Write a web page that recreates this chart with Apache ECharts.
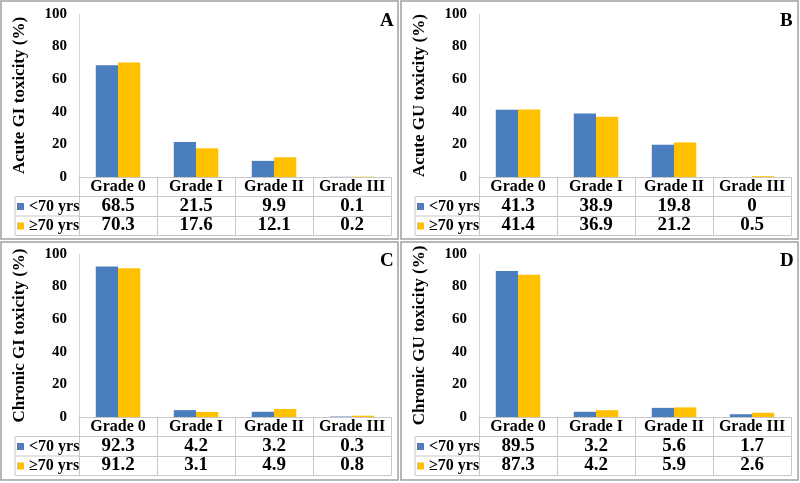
<!DOCTYPE html>
<html>
<head>
<meta charset="utf-8">
<script src="https://cdn.jsdelivr.net/npm/echarts@6/dist/echarts.min.js"></script>
<style>
html, body { margin: 0; padding: 0; background: #fff; }
#main { width: 800px; height: 483px; }
</style>
</head>
<body>
<div id="main"></div>
<script>
var categories = ['Grade 0', 'Grade I', 'Grade II', 'Grade III'];
var groups = ['<70 yrs', '≥70 yrs'];
var panelLetters = ['A', 'B', 'C', 'D'];
var panelTitles = ['Acute GI toxicity (%)', 'Acute GU toxicity (%)', 'Chronic GI toxicity (%)', 'Chronic GU toxicity (%)'];
var under70 = [
    [68.5, 21.5, 9.9, 0.1],
    [41.3, 38.9, 19.8, 0],
    [92.3, 4.2, 3.2, 0.3],
    [89.5, 3.2, 5.6, 1.7]
];
var over70 = [
    [70.3, 17.6, 12.1, 0.2],
    [41.4, 36.9, 21.2, 0.5],
    [91.2, 3.1, 4.9, 0.8],
    [87.3, 4.2, 5.9, 2.6]
];
var yMin = 0, yMax = 100, yStep = 20;

var FONT = "'Liberation Serif', 'Times New Roman', serif";
var BLUE = '#4a7ebf';
var YELLOW = '#ffc000';
var LINE = '#c8c8c8';
var panelX = [0, 400, 0, 400];
var panelY = [0, 0, 240, 240];
var ROW = 19.5;

var grids = [], xAxes = [], yAxes = [], series = [], legends = [], titles = [], graphics = [];

function valueStrings(arr) {
    return arr.map(function (v) { return String(v); });
}

for (var i = 0; i < 4; i++) {
    var px = panelX[i], py = panelY[i];
    grids.push({ left: px + 79, top: py + 14, width: 312, height: 163 });

    var base = {
        type: 'category',
        gridIndex: i,
        position: 'bottom',
        axisLine: { onZero: false, lineStyle: { color: LINE, width: 1 } },
        axisTick: { show: true, alignWithLabel: false, interval: 0, length: ROW, lineStyle: { color: LINE } },
        splitLine: { show: false }
    };
    // header row: category names
    xAxes.push(Object.assign({}, base, {
        data: categories,
        offset: 0,
        axisLabel: { interval: 0, margin: 2, color: '#000', fontFamily: FONT, fontWeight: 'bold', fontSize: 16 }
    }));
    // row 1: <70 yrs values
    xAxes.push(Object.assign({}, base, {
        data: valueStrings(under70[i]),
        offset: ROW,
        axisLabel: { interval: 0, margin: 0, color: '#000', fontFamily: FONT, fontWeight: 'bold', fontSize: 19 }
    }));
    // row 2: >=70 yrs values
    xAxes.push(Object.assign({}, base, {
        data: valueStrings(over70[i]),
        offset: ROW * 2,
        axisLabel: { interval: 0, margin: 0, color: '#000', fontFamily: FONT, fontWeight: 'bold', fontSize: 19 }
    }));
    // bottom table line
    xAxes.push(Object.assign({}, base, {
        data: categories,
        offset: ROW * 3,
        axisTick: { show: false },
        axisLabel: { show: false }
    }));

    yAxes.push({
        type: 'value',
        gridIndex: i,
        min: yMin,
        max: yMax,
        interval: yStep,
        name: panelTitles[i],
        nameLocation: 'middle',
        nameGap: 51,
        nameTextStyle: { color: '#000', fontFamily: FONT, fontWeight: 'bold', fontSize: 17 },
        axisLine: { show: true, lineStyle: { color: '#d9d9d9' } },
        axisTick: { show: false },
        splitLine: { show: false },
        axisLabel: { margin: 12, color: '#000', fontFamily: FONT, fontWeight: 'bold', fontSize: 15 }
    });

    series.push({
        name: groups[0], type: 'bar', xAxisIndex: i * 4, yAxisIndex: i,
        data: under70[i], barGap: '0%', barCategoryGap: '43%',
        itemStyle: { color: BLUE }
    });
    series.push({
        name: groups[1], type: 'bar', xAxisIndex: i * 4, yAxisIndex: i,
        data: over70[i], barGap: '0%', barCategoryGap: '43%',
        itemStyle: { color: YELLOW }
    });

    legends.push({
        data: groups,
        orient: 'vertical',
        left: px + 17,
        top: py + 177 + ROW + 2,
        padding: 0,
        itemWidth: 7,
        itemHeight: 7,
        itemGap: 3.5,
        icon: 'rect',
        selectedMode: false,
        textStyle: { color: '#000', fontFamily: FONT, fontWeight: 'bold', fontSize: 16, lineHeight: 16 }
    });

    titles.push({
        text: panelLetters[i],
        left: px + 380,
        top: py + 12,
        padding: 0,
        textStyle: { color: '#000', fontFamily: FONT, fontWeight: 'bold', fontSize: 19 }
    });

    // panel frame
    graphics.push({
        type: 'rect',
        shape: { x: px + 1, y: py + (i < 2 ? 1 : 2), width: 397, height: 238 },
        style: { fill: null, stroke: '#a0a0a0', lineWidth: 1.5 },
        silent: true
    });
    // legend column box of the table
    var t0 = py + 177 + ROW;
    graphics.push({
        type: 'polyline',
        shape: { points: [[px + 79, t0], [px + 15, t0], [px + 15, t0 + ROW * 2], [px + 79, t0 + ROW * 2]] },
        style: { fill: null, stroke: LINE, lineWidth: 1 },
        silent: true
    });
    graphics.push({
        type: 'line',
        shape: { x1: px + 15, y1: t0 + ROW, x2: px + 79, y2: t0 + ROW },
        style: { stroke: LINE, lineWidth: 1 },
        silent: true
    });
}

var chart = echarts.init(document.getElementById('main'));
chart.setOption({
    animation: false,
    backgroundColor: '#fff',
    title: titles,
    legend: legends,
    grid: grids,
    xAxis: xAxes,
    yAxis: yAxes,
    series: series,
    graphic: graphics
});
</script>
</body>
</html>
